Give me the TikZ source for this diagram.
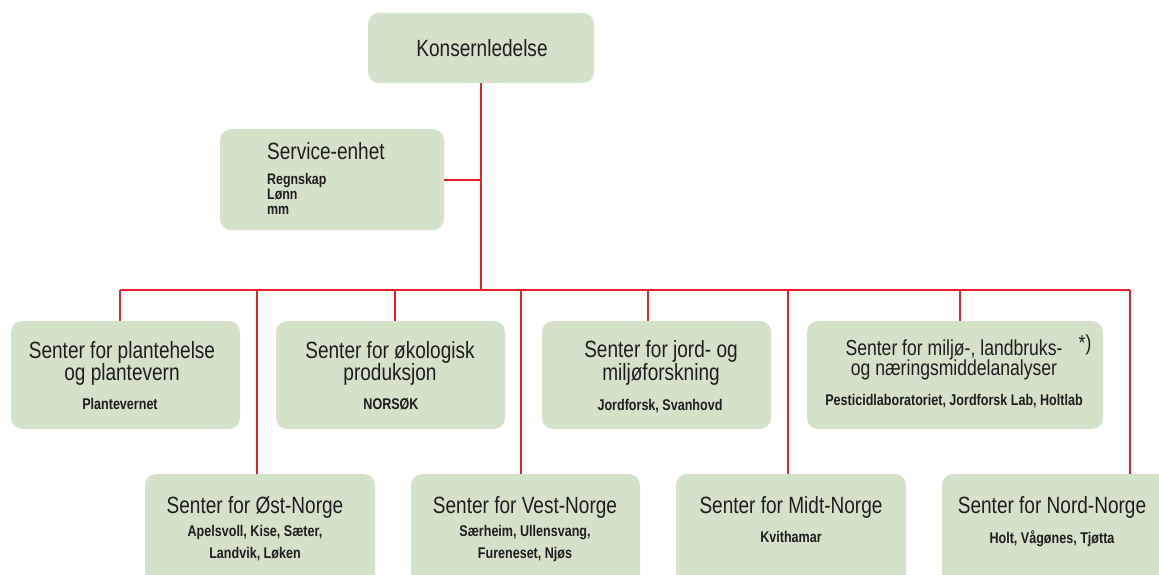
\documentclass[tikz,border=0pt]{standalone}
\usepackage{fontspec}
\setmainfont{Liberation Sans}[FakeStretch=0.81]
\definecolor{boxfill}{RGB}{213,226,202}
\definecolor{lred}{RGB}{232,30,40}
\definecolor{txt}{RGB}{30,30,30}
\begin{document}
\begin{tikzpicture}[x=1pt,y=-1pt,
  box/.style={draw=none, fill=boxfill, rounded corners=11pt, inner sep=0pt},
  ttl/.style={anchor=base, inner sep=0pt, text=txt, font=\fontsize{23.5}{22}\selectfont},
  ttlsm/.style={anchor=base, inner sep=0pt, text=txt, font=\fontsize{21.7}{20}\selectfont},
  sub/.style={anchor=base, inner sep=0pt, text=txt, font=\fontsize{15.5}{18}\selectfont\bfseries},
  subsm/.style={anchor=base west, inner sep=0pt, text=txt, font=\fontsize{15.3}{15}\selectfont\bfseries},
  link/.style={draw=lred, line width=2pt}]
\useasboundingbox (0,0) rectangle (1159,575);
\clip (0,0) rectangle (1159,575);
% boxes
\node[box, minimum width=226pt, minimum height=70pt]  (k)  at (481,48) {};
\node[box, minimum width=224pt, minimum height=101pt] (s)  at (332,179.5) {};
\node[box, minimum width=229pt, minimum height=108pt] (b1) at (125.5,375) {};
\node[box, minimum width=229pt, minimum height=108pt] (b2) at (390.5,375) {};
\node[box, minimum width=229pt, minimum height=108pt] (b3) at (656.5,375) {};
\node[box, minimum width=296pt, minimum height=108pt] (b4) at (955,375) {};
\node[box, minimum width=230pt, minimum height=120pt] (o)  at (260,534) {};
\node[box, minimum width=229pt, minimum height=120pt] (v)  at (525.5,534) {};
\node[box, minimum width=230pt, minimum height=120pt] (m)  at (791,534) {};
\node[box, minimum width=230pt, minimum height=120pt] (n)  at (1057,534) {};
% texts
\node[ttl] (kt) at (482,57) {Konsernledelse};
\node[ttl, anchor=base west] (st) at (267,159) {Service-enhet};
\node[subsm] (s1) at (267,184) {Regnskap};
\node[subsm] (s2) at (267,199) {Lønn};
\node[subsm] (s3) at (267,214) {mm};
\node[ttl] (b1a) at (122,358) {Senter for plantehelse};
\node[ttl] (b1b) at (122,380) {og plantevern};
\node[sub] (b1c) at (120,409) {Plantevernet};
\node[ttl] (b2a) at (390,358) {Senter for økologisk};
\node[ttl] (b2b) at (390,380) {produksjon};
\node[sub] (b2c) at (391,409) {NORSØK};
\node[ttl] (b3a) at (661,357) {Senter for jord- og};
\node[ttl] (b3b) at (661,380) {miljøforskning};
\node[sub] (b3c) at (660,410) {Jordforsk, Svanhovd};
\node[ttlsm] (b4a) at (954,355) {Senter for miljø-, landbruks-};
\node[ttlsm] (b4b) at (954,375) {og næringsmiddelanalyser};
\node[sub] (b4c) at (954,405) {Pesticidlaboratoriet, Jordforsk Lab, Holtlab};
\node[ttlsm] (b4s) at (1085,350) {*)};
\node[ttl] (ot) at (255,513) {Senter for Øst-Norge};
\node[sub] (o1) at (255,536) {Apelsvoll, Kise, Sæter,};
\node[sub] (o2) at (255,558) {Landvik, Løken};
\node[ttl] (vt) at (525,513) {Senter for Vest-Norge};
\node[sub] (v1) at (525,536) {Særheim, Ullensvang,};
\node[sub] (v2) at (525,558) {Fureneset, Njøs};
\node[ttl] (mt) at (791,513) {Senter for Midt-Norge};
\node[sub] (m1) at (791,542) {Kvithamar};
\node[ttl] (nt) at (1052,513) {Senter for Nord-Norge};
\node[sub] (n1) at (1052,543) {Holt, Vågønes, Tjøtta};
% connectors
\coordinate (top) at (481,290);
\coordinate (bl) at (120,290);
\coordinate (br) at (1130,290);
\coordinate (d2) at (395,290);
\coordinate (d3) at (648,290);
\coordinate (d4) at (960,290);
\coordinate (e1) at (257,290);
\coordinate (e2) at (521,290);
\coordinate (e3) at (788,290);
\draw[link] (k.south) -- (top);
\draw[link] (s.east) -- (s.east -| k.south);
\draw[link] (bl) -- (br);
\draw[link] (bl) -- (bl |- b1.north);
\draw[link] (d2) -- (d2 |- b2.north);
\draw[link] (d3) -- (d3 |- b3.north);
\draw[link] (d4) -- (d4 |- b4.north);
\draw[link] (e1) -- (e1 |- o.north);
\draw[link] (e2) -- (e2 |- v.north);
\draw[link] (e3) -- (e3 |- m.north);
\draw[link] (br) -- (br |- n.north);
\end{tikzpicture}
\end{document}
